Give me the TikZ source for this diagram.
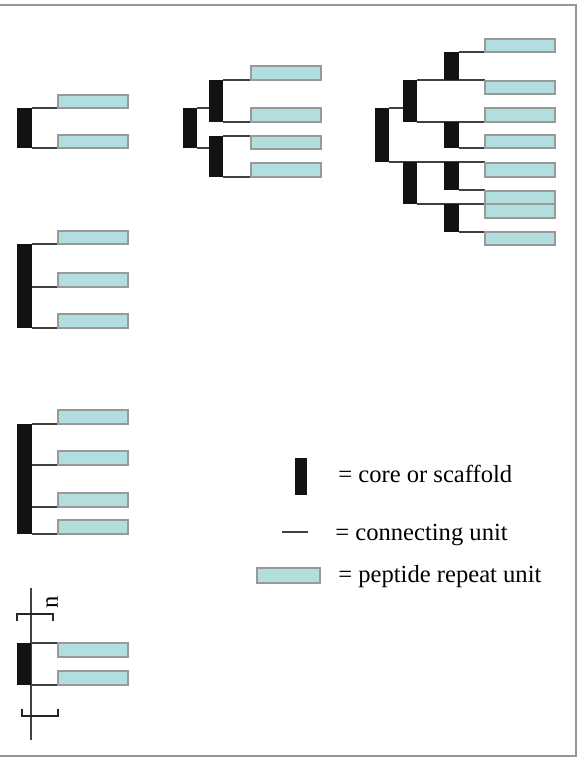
\documentclass[tikz,border=0pt]{standalone}
\usepackage{fontspec}
\setmainfont{Liberation Serif}
\usepackage{tikz}
\usepackage{xcolor}
\definecolor{pepblue}{RGB}{178,222,224}
\definecolor{framegray}{RGB}{150,150,150}

\begin{document}
\begin{tikzpicture}[x=0.02cm, y=-0.02cm,
  core/.style={fill=black!93},
  pep/.style={draw=black!40, fill=pepblue, line width=0.6pt},
  link/.style={draw=black!75, line width=0.75pt},
  brk/.style={draw=black!85, line width=1pt},
  every node/.style={font=\fontsize{14}{16}\selectfont, inner sep=0pt}]
  \useasboundingbox (0,0) rectangle (581,758);
  % frame
  \draw[framegray, line width=0.8pt] (0,5)--(576,5)--(576,756)--(0,756);

  % two arms
  \draw[link] (32,108)--(58,108) (32,148)--(58,148);
  \fill[core] (17,108) rectangle (32,148);
  \draw[pep] (58,95) rectangle (128,108);
  \draw[pep] (58,135) rectangle (128,148);

  % branched, two levels
  \draw[link] (197,108)--(209,108) (197,148)--(209,148);
  \draw[link] (223,80)--(251,80) (223,122)--(251,122)
              (223,136)--(251,136) (223,177)--(251,177);
  \fill[core] (183,108) rectangle (197,148);
  \fill[core] (209,80) rectangle (223,122);
  \fill[core] (209,136) rectangle (223,177);
  \foreach \ya/\yb in {66/80, 108/122, 136/149, 163/177}
    \draw[pep] (251,\ya) rectangle (321,\yb);

  % branched, three levels
  \draw[link] (389,108)--(403,108) (389,162)--(485,162);
  \draw[link] (417,80)--(485,80) (417,122)--(485,122) (417,204)--(485,204);
  \draw[link] (459,52)--(485,52) (459,148)--(485,148)
              (459,190)--(485,190) (459,232)--(485,232);
  \fill[core] (375,108) rectangle (389,162);
  \fill[core] (403,80) rectangle (417,122);
  \fill[core] (403,162) rectangle (417,204);
  \foreach \ya/\yb in {52/80, 122/148, 162/190, 204/232}
    \fill[core] (444,\ya) rectangle (459,\yb);
  \foreach \ya/\yb in {39/52, 81/94, 108/122, 135/148, 163/177, 191/204, 204/218, 232/245}
    \draw[pep] (485,\ya) rectangle (555,\yb);

  % linear, three arms
  \foreach \yl in {244, 287, 328}
    \draw[link] (32,\yl)--(58,\yl);
  \fill[core] (17,244) rectangle (32,328);
  \foreach \ya/\yb in {231/244, 273/287, 314/328}
    \draw[pep] (58,\ya) rectangle (128,\yb);

  % linear, four arms
  \foreach \yl in {424, 465, 507, 534}
    \draw[link] (32,\yl)--(58,\yl);
  \fill[core] (17,424) rectangle (32,534);
  \foreach \ya/\yb in {410/424, 451/465, 493/507, 520/534}
    \draw[pep] (58,\ya) rectangle (128,\yb);

  % repeating unit
  \draw[link, line width=0.9pt] (31,588)--(31,740);
  \draw[brk] (17,621)--(17,614)--(53,614)--(53,621);
  \draw[brk] (22,709)--(22,716)--(58,716)--(58,709);
  \node[rotate=90] (nrep) at (52,602) {n};
  \draw[link] (31,643)--(58,643) (31,685)--(58,685);
  \fill[core] (17,643) rectangle (31,685);
  \draw[pep] (58,643) rectangle (128,657);
  \draw[pep] (58,671) rectangle (128,685);

  % legend
  \fill[core] (295,458) rectangle (307,495);
  \node[anchor=base west] (lgcore) at (338,482) {= core or scaffold};
  \draw[link] (282,532)--(308,532);
  \node[anchor=base west] (lglink) at (335,540) {= connecting unit};
  \draw[pep] (257,568) rectangle (320,583);
  \node[anchor=base west] (lgpep) at (338,582) {= peptide repeat unit};
\end{tikzpicture}
\end{document}
